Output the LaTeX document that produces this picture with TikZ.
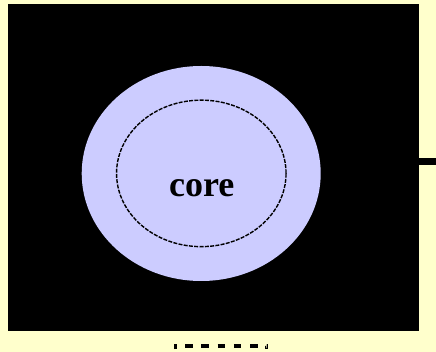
\documentclass[tikz,border=0pt]{standalone}
\usepackage{fontspec}
\setmainfont{Liberation Serif}
\usetikzlibrary{shapes.geometric}
\definecolor{bgyellow}{HTML}{FFFFCC}
\definecolor{corefill}{HTML}{CCCCFF}
\tikzset{
  outerell/.style={ellipse, fill=corefill, draw=none, inner sep=0pt},
  innerell/.style={ellipse, draw=black, line width=1.4pt, dash pattern=on 4pt off 1.3pt, inner sep=0pt},
  blackbox/.style={rectangle, fill=black, draw=none, inner sep=0pt},
  conn/.style={draw=black, line width=6.8pt},
  dashconn/.style={draw=black, line width=3.5pt, dash pattern=on 7.5pt off 8.8pt}
}
\begin{document}
\begin{tikzpicture}[x=1pt,y=-1pt]
\useasboundingbox (0,0) rectangle (436,352);
\fill[bgyellow] (0,0) rectangle (436,352);
\node[blackbox, minimum width=411pt, minimum height=327pt] (box) at (213.5,167.5) {};
\node[outerell, minimum width=239pt, minimum height=215pt] (outer) at (201.2,173.5) {};
\node[innerell, minimum width=169.5pt, minimum height=146.5pt] (inner) at (201.3,173.4) {};
\node[anchor=base, inner sep=0pt, font=\fontsize{36}{40}\selectfont\bfseries] (core) at (201.7,196.5) {core};
\coordinate (rend) at (436,161.5);
\draw[conn] (box.east |- rend) -- (rend);
\coordinate (bl) at (175.5,349);
\coordinate (br) at (266.5,349);
\draw[dashconn, dash phase=3.8pt] (bl) -- (175.5,346) -- (266.5,346) -- (br);
\end{tikzpicture}
\end{document}
